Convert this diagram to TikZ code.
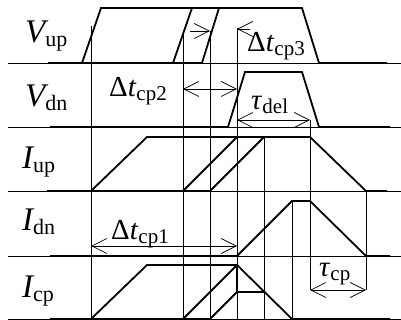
\documentclass[tikz,border=0pt]{standalone}
\usepackage{fontspec}
\setmainfont{Liberation Serif}
\usetikzlibrary{arrows.meta}
\tikzset{
  axis/.style={line width=0.8pt},
  wave/.style={line width=1.8pt, line join=miter},
  guide/.style={line width=0.7pt},
  barb/.tip={Straight Barb[length=15pt,width=15pt]},
  dim/.style={line width=0.7pt, barb-barb},
  dimr/.style={line width=0.7pt, -barb},
  lab/.style={anchor=base west, inner sep=0pt},
}
\newcommand\siglabel[2]{{\fontsize{33}{35}\selectfont\itshape #1}\raisebox{-4pt}{\fontsize{22}{24}\selectfont #2}}
\newcommand\dimlabel[2]{{\fontsize{29}{31}\selectfont #1}\raisebox{-4pt}{\fontsize{21}{23}\selectfont #2}}
\begin{document}
\begin{tikzpicture}[x=1pt,y=-1pt]
\useasboundingbox (0,0) rectangle (401,320);
% axes
\foreach \y in {63,127,191,256,319} \draw[axis] (8,\y) -- (401,\y);
% guides
\draw[guide] (91,26) -- (91,319);
\draw[guide] (183,30) -- (183,319);
\draw[guide] (210,31) -- (210,319);
\draw[guide] (237,28) -- (237,319);
\draw[guide] (264,137) -- (264,319);
\draw[guide] (292,201) -- (292,319);
\draw[guide] (310,120) -- (310,290);
\draw[guide] (366,191) -- (366,290);
% V_up
\draw[wave] (48,63) -- (202,63);
\draw[wave] (82,63) -- (101,8) -- (302,8) -- (319,63) -- (387,63);
\draw[wave] (173,63) -- (192,8);
\draw[wave] (202,63) -- (219,8);
% V_dn
\draw[wave] (50,127) -- (228,127) -- (245,72) -- (302,72) -- (319,127) -- (390,127);
% I_up
\draw[wave] (47,191) -- (210,191);
\draw[wave] (91,191) -- (147,137) -- (310,137) -- (366,191) -- (387,191);
\draw[wave] (183,191) -- (237,137);
\draw[wave] (210,191) -- (264,137);
% I_dn
\draw[wave] (50,256) -- (237,256) -- (292,201) -- (310,201) -- (366,256) -- (390,256);
% I_cp
\draw[wave] (50,319) -- (210,319);
\draw[wave] (91,319) -- (147,265) -- (237,265) -- (292,319) -- (390,319);
\draw[wave] (183,319) -- (237,265);
\draw[wave] (210,319) -- (237,292) -- (264,292);
\draw[wave] (237,265) -- (237,292);
% dimension arrows
\coordinate (c2a) at (183,89); \coordinate (c2b) at (237,89);
\coordinate (c3a) at (190,31); \coordinate (c3b) at (210,31);
\coordinate (c3c) at (250,29); \coordinate (c3d) at (237,29);
\coordinate (dla) at (237,120); \coordinate (dlb) at (310,120);
\coordinate (c1a) at (91,246); \coordinate (c1b) at (237,246);
\coordinate (cpa) at (310,290); \coordinate (cpb) at (366,290);
\draw[dim] (c2a) -- (c2b);
\draw[dimr] (c3a) -- (c3b);
\draw[dimr] (c3c) -- (c3d);
\draw[dim] (dla) -- (dlb);
\draw[dim] (c1a) -- (c1b);
\draw[dim] (cpa) -- (cpb);
% labels
\node[lab] (vup) at (25,43) {\siglabel{V}{up}};
\node[lab] (vdn) at (25,107) {\siglabel{V}{dn}};
\node[lab] (iup) at (22,169) {\siglabel{I}{up}};
\node[lab] (idn) at (22,230) {\siglabel{I}{dn}};
\node[lab] (icp) at (22,297) {\siglabel{I}{cp}};
\node[lab] (t2) at (109,97) {\dimlabel{Δ\textit{t}}{cp2}};
\node[lab] (t3) at (247,52) {\dimlabel{Δ\textit{t}}{cp3}};
\node[lab] (t1) at (111,240) {\dimlabel{Δ\textit{t}}{cp1}};
\node[lab] (tdel) at (251,110) {\dimlabel{\textit{τ}}{del}};
\node[lab] (tcp) at (319,276) {\dimlabel{\textit{τ}}{cp}};
\end{tikzpicture}
\end{document}
